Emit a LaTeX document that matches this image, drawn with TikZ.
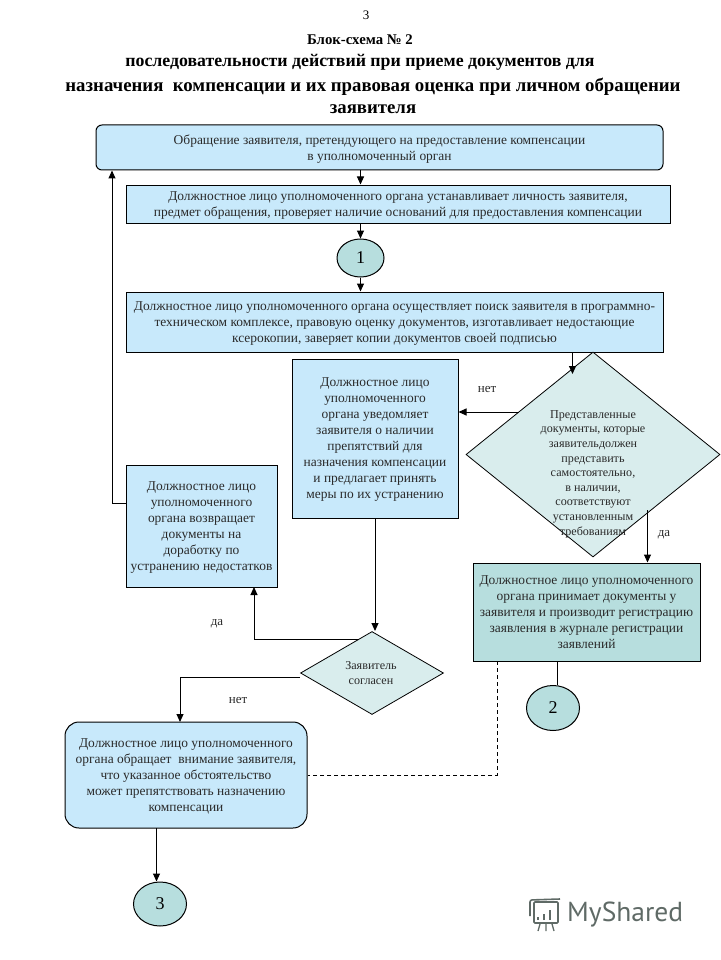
\documentclass[tikz,border=0pt]{standalone}
\usepackage{fontspec}
\setmainfont{Liberation Serif}
\newfontfamily\wmfont{PT Sans}
\usetikzlibrary{shapes.geometric,arrows.meta}
\definecolor{bluebox}{HTML}{C8E9FB}
\definecolor{tealbox}{HTML}{B7DEDE}
\definecolor{diafill}{HTML}{D9EDED}
\definecolor{inkc}{HTML}{2A2A2A}
\definecolor{wmc}{HTML}{5F6A66}
\tikzset{
 x=1pt,y=-1pt,
 boxtxt/.style={font=\fontsize{13.45}{16}\selectfont,text=inkc,align=center,inner sep=0pt,text depth=0pt},
 bluerect/.style={boxtxt,draw=black,fill=bluebox,line width=1pt},
 bluernd/.style={bluerect,rounded corners=#1},
 tealrect/.style={boxtxt,draw=black,fill=tealbox,line width=1pt},
 circ/.style={draw=black,fill=tealbox,line width=1pt,ellipse,inner sep=0pt,font=\fontsize{18}{20}\selectfont},
 dia/.style={draw=black,fill=diafill,line width=.8pt,diamond,inner sep=0pt},
 dlabel/.style={font=\fontsize{12.1}{14.6}\selectfont,text=inkc,align=center,inner sep=0pt},
 smalllab/.style={font=\fontsize{13}{14}\selectfont,text=inkc,inner sep=0pt},
 ttl/.style={font=\fontsize{#1}{20}\selectfont\bfseries,inner sep=0pt},
 arr/.style={line width=1pt,-{Triangle[length=8pt,width=7pt]}},
 lin/.style={line width=1pt},
 dsh/.style={line width=.9pt,dash pattern=on 4pt off 3pt},
 wml/.style={draw=wmc,line width=1.6pt}
}
\begin{document}
\begin{tikzpicture}
\useasboundingbox (0,0) rectangle (720,960);
\node[font=\fontsize{13}{14}\selectfont,inner sep=0pt] (pg) at (366,15) {3};
\node[ttl=14.8] (t1) at (360,40) {Блок-схема № 2};
\node[ttl=17.8] (t2) at (360,62) {последовательности действий при приеме документов для};
\node[ttl=18.8] (t3) at (373,87) {назначения\ \ компенсации и их правовая оценка при личном обращении};
\node[ttl=18.8] (t4) at (373,109) {заявителя};

\node[bluernd=6pt,minimum width=567,minimum height=45] (top) at (379.5,147.5)
 {Обращение заявителя, претендующего на предоставление компенсации\\в уполномоченный орган};
\node[bluerect,minimum width=544,minimum height=38] (b2) at (398,204)
 {Должностное лицо уполномоченного органа устанавливает личность заявителя,\\предмет обращения, проверяет наличие оснований для предоставления компенсации};
\node[circ,minimum width=47,minimum height=38] (c1) at (360.5,258) {1};
\node[bluerect,minimum width=537,minimum height=60] (b3) at (394.5,322)
 {Должностное лицо уполномоченного органа осуществляет поиск заявителя в программно-\\техническом комплексе, правовую оценку документов, изготавливает недостающие\\ксерокопии, заверяет копии документов своей подписью};
\node[bluerect,minimum width=166,minimum height=159] (b4) at (375,438.5)
 {Должностное лицо\\уполномоченного\\органа уведомляет\\заявителя о наличии\\препятствий для\\назначения компенсации\\и предлагает принять\\меры по их устранению};
\node[dia,minimum width=254,minimum height=205,shape aspect=1.24] (d1) at (593,454.5) {};
\node[dlabel] (d1t) at (593,474)
 {Представленные\\документы, которые\\заявительдолжен\\представить\\самостоятельно,\\в наличии,\\соответствуют\\установленным\\требованиям};
\node[bluerect,minimum width=151,minimum height=122] (b5) at (201.5,526)
 {Должностное лицо\\уполномоченного\\органа возвращает\\документы на\\доработку по\\устранению недостатков};
\node[tealrect,minimum width=227,minimum height=98] (b6) at (586.5,612)
 {Должностное лицо уполномоченного\\органа принимает документы у\\заявителя и производит регистрацию\\заявления в журнале регистрации\\заявлений};
\node[circ,minimum width=53,minimum height=45] (c2) at (553,708) {2};
\node[dia,minimum width=143,minimum height=83,shape aspect=1.72] (d2) at (372,673) {};
\node[dlabel] (d2t) at (371,673) {Заявитель\\согласен};
\node[bluernd=14pt,minimum width=242,minimum height=106] (b7) at (186,775)
 {Должностное лицо уполномоченного\\органа обращает\ \ внимание заявителя,\\что указанное обстоятельство\\может препятствовать назначению\\компенсации};
\node[circ,minimum width=53,minimum height=44] (c3) at (160,904) {3};

\node[smalllab] (l1) at (487,389) {нет};
\node[smalllab] (l2) at (664,535) {да};
\node[smalllab] (l3) at (217,624) {да};
\node[smalllab] (l4) at (238,700) {нет};

\coordinate (p360) at (360.5,170);
\coordinate (p572) at (572.5,374);
\coordinate (pno) at (519,412);
\coordinate (pyes) at (647.5,510);
\coordinate (p375) at (375,631);
\coordinate (pda) at (358,639);
\coordinate (p254) at (254,587);
\coordinate (pnet) at (300,677);
\coordinate (p180) at (180,722);
\coordinate (pback) at (112,503);
\coordinate (p557) at (557.5,661);
\coordinate (p497) at (497,661);
\coordinate (p156) at (156.5,828);

\draw[arr] (p360) -- (p360 |- b2.north);
\draw[arr] (b2.south -| c1) -- (c1.north);
\draw[arr] (c1.south) -- (c1 |- b3.north);
\draw[arr] (b3.south -| p572) -- (p572);
\draw[arr] (pno) -- (pno -| b4.east);
\draw[arr] (pyes) -- (pyes |- b6.north);
\draw[arr] (b4.south -| p375) -- (p375);
\draw[arr] (pda) -| (p254);
\draw[arr] (pnet) -| (p180);
\draw[arr] (b5.west |- pback) -- (pback) -- (pback |- top.south);
\draw[lin] (p557) -- (p557 |- c2.north);
\draw[dsh] (p497) |- (b7.east);
\draw[arr] (p156) -- (p156 |- c3.north);

\node[font=\wmfont\fontsize{27.5}{30}\selectfont,text=wmc,inner sep=0pt,anchor=west] (wm) at (567,915) {MyShared};
\draw[wml,line width=1.6pt,rounded corners=1pt] (534,902) rectangle (558,923);
\draw[wml,line width=1.6pt,rounded corners=2pt] (530,916) -- (530,900) -- (560,899);
\draw[wml,line width=2.2pt] (538,920) -- (538,917) (544,920) -- (544,914) (550,920) -- (550,910);
\draw[wml,line width=1.3pt] (540,924) -- (538,931) (546,924) -- (546,931) (552,924) -- (554,931);
\end{tikzpicture}
\end{document}
